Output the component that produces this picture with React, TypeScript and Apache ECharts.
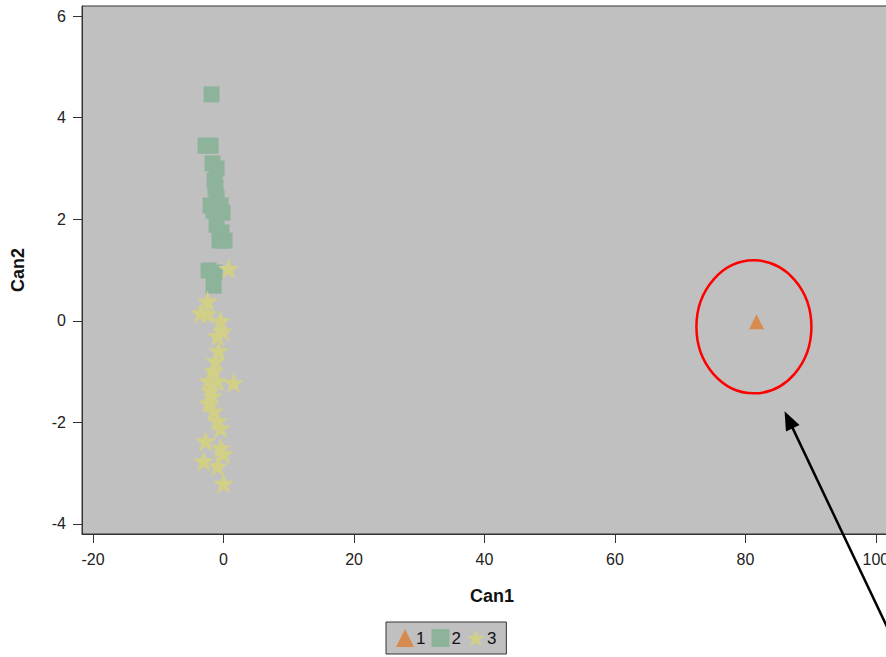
import React, { useEffect, useRef } from 'react';
import * as echarts from 'echarts';

const group1: number[][] = [[81.7, -0.02]];
const group2: number[][] = [
  [-1.84, 4.46], [-2.76, 3.45], [-1.99, 3.45], [-1.69, 3.1], [-1.07, 3.0],
  [-1.38, 2.76], [-1.23, 2.62], [-1.07, 2.41], [-1.99, 2.27], [-1.53, 2.17],
  [-0.46, 2.27], [-0.15, 2.13], [-1.07, 1.89], [-0.31, 1.74], [-0.61, 1.58],
  [0.15, 1.58], [-2.3, 0.99], [-1.38, 0.95], [-1.53, 0.69],
];
const group3: number[][] = [
  [0.77, 1.03], [-2.45, 0.39], [-3.53, 0.16], [-2.45, 0.14], [-0.46, 0.0],
  [-0.15, -0.2], [-0.92, -0.3], [-0.77, -0.59], [-1.23, -0.79], [-1.53, -0.99],
  [-2.3, -1.18], [1.53, -1.22], [-0.92, -1.18], [-1.99, -1.38], [-1.69, -1.48],
  [-2.3, -1.62], [-1.53, -1.78], [-0.92, -1.97], [-0.46, -2.11], [-2.76, -2.37],
  [-0.46, -2.5], [-3.07, -2.76], [0.0, -2.62], [-0.92, -2.86], [0.0, -3.2],
];
const xTicks = [-20, 0, 20, 40, 60, 80, 100];
const yTicks = [-4, -2, 0, 2, 4, 6];
const legendNames = ['1', '2', '3'];
const ellipseCenter = [81.3, -0.12];
const arrowTip = [86.0, -1.78];
const arrowTail = [104.0, -6.65];

const STAR = 'path://M50,2 L61.8,36.2 L97.6,36.2 L68.6,57.4 L79.6,91.6 L50,70.4 L20.4,91.6 L31.4,57.4 L2.4,36.2 L38.2,36.2 Z';

export default function App() {
  const ref = useRef<HTMLDivElement>(null);
  useEffect(() => {
    if (!ref.current) return;
    const chart = echarts.init(ref.current, undefined, { renderer: 'svg' });
    const font = 'Liberation Sans, Arial, sans-serif';
    chart.setOption({
      animation: false,
      backgroundColor: '#ffffff',
      textStyle: { fontFamily: font },
      grid: {
        left: 82, top: 6, bottom: 123, right: 18,
        show: true, backgroundColor: '#c0c0c0', borderColor: '#333', borderWidth: 1,
        containLabel: false,
      },
      xAxis: {
        type: 'value', min: -21.7, max: 104,
        name: 'Can1', nameLocation: 'middle', nameGap: 53,
        nameTextStyle: { fontFamily: font, fontSize: 18, fontWeight: 'bold', color: '#111' },
        axisLine: { show: true, onZero: false, lineStyle: { color: '#333', width: 1 } },
        axisTick: { show: true, length: 9, lineStyle: { color: '#333' }, customValues: xTicks },
        axisLabel: { customValues: xTicks, margin: 17, fontSize: 16, color: '#222', fontFamily: font },
        splitLine: { show: false },
      },
      yAxis: {
        type: 'value', min: -4.2, max: 6.2,
        name: 'Can2', nameLocation: 'middle', nameGap: 55, nameRotate: 90,
        nameTextStyle: { fontFamily: font, fontSize: 18, fontWeight: 'bold', color: '#111' },
        axisLine: { show: true, onZero: false, lineStyle: { color: '#333', width: 1 } },
        axisTick: { show: true, length: 9, lineStyle: { color: '#333' }, customValues: yTicks },
        axisLabel: { customValues: yTicks, margin: 16, fontSize: 16, color: '#222', fontFamily: font },
        splitLine: { show: false },
      },
      legend: {
        data: [
          { name: legendNames[0], icon: 'triangle' },
          { name: legendNames[1], icon: 'rect' },
          { name: legendNames[2], icon: STAR },
        ],
        left: 386, top: 622,
        backgroundColor: '#c0c0c0', borderColor: '#333', borderWidth: 1,
        padding: [7, 10, 7, 10], itemWidth: 18, itemHeight: 18, itemGap: 6,
        textStyle: { fontSize: 17, color: '#111', fontFamily: font, padding: [0, 0, 0, -3] },
      },
      series: [
        {
          name: legendNames[0], type: 'scatter', symbol: 'triangle', symbolSize: 15,
          itemStyle: { color: '#d88b4f', opacity: 1 }, data: group1,
        },
        {
          name: legendNames[1], type: 'scatter', symbol: 'rect', symbolSize: 16,
          itemStyle: { color: '#8db39a', opacity: 1 }, data: group2,
        },
        {
          name: legendNames[2], type: 'scatter', symbol: STAR, symbolSize: 21,
          itemStyle: { color: '#d2d086', opacity: 1 }, data: group3,
        },
      ],
    });

    const c = chart.convertToPixel({ gridIndex: 0 }, ellipseCenter) as number[];
    const tip = chart.convertToPixel({ gridIndex: 0 }, arrowTip) as number[];
    const tail = chart.convertToPixel({ gridIndex: 0 }, arrowTail) as number[];
    const dx = tip[0] - tail[0];
    const dy = tip[1] - tail[1];
    const len = Math.sqrt(dx * dx + dy * dy);
    const ux = dx / len, uy = dy / len;
    const nx = -uy, ny = ux;
    const L = 19, W = 15;
    const bx = tip[0] - ux * L, by = tip[1] - uy * L;
    chart.setOption({
      graphic: [
        {
          type: 'ellipse', z: 100,
          shape: { cx: c[0], cy: c[1], rx: 57.5, ry: 66.5 },
          style: { fill: 'none', stroke: '#ff0000', lineWidth: 2.5 },
        },
        {
          type: 'line', z: 100,
          shape: { x1: tail[0], y1: tail[1], x2: tip[0] - ux * L * 0.7, y2: tip[1] - uy * L * 0.7 },
          style: { stroke: '#000', lineWidth: 2.5 },
        },
        {
          type: 'polygon', z: 100,
          shape: { points: [[tip[0], tip[1]], [bx + nx * W / 2, by + ny * W / 2], [bx - nx * W / 2, by - ny * W / 2]] },
          style: { fill: '#000' },
        },
      ],
    });
    return () => chart.dispose();
  }, []);
  return (
    <div
      ref={ref}
      style={{ position: 'fixed', left: 0, top: 0, width: 920, height: 657 }}
    />
  );
}
